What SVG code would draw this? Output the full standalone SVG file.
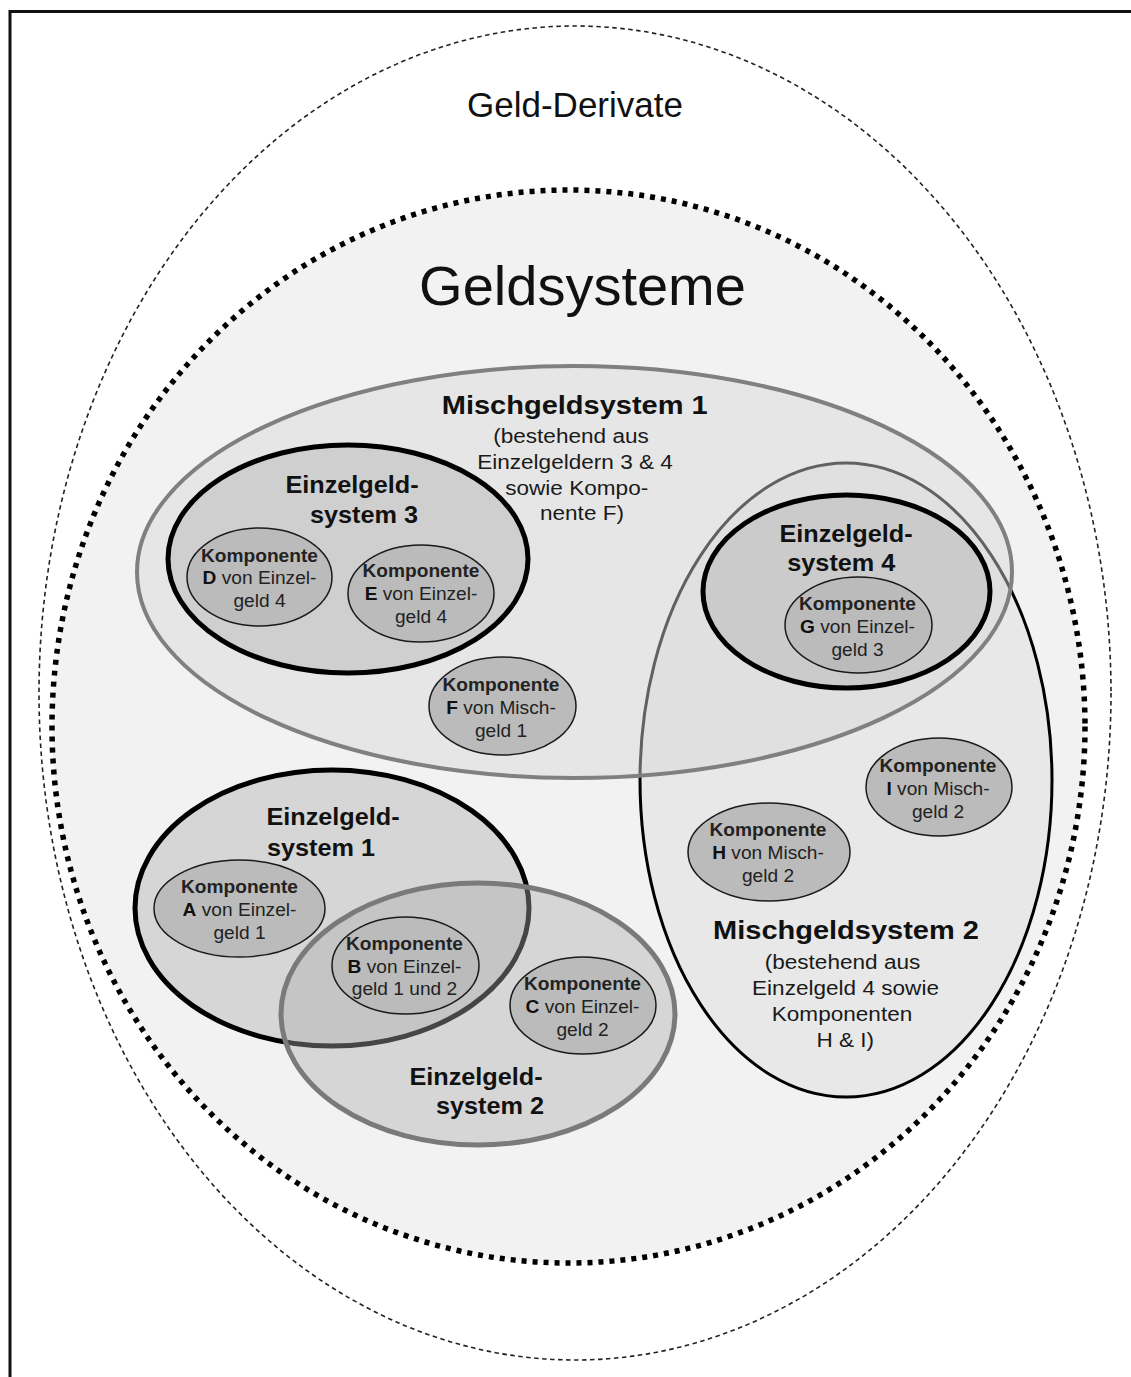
<svg xmlns="http://www.w3.org/2000/svg" width="1131" height="1377" viewBox="0 0 1131 1377">
<style>
text{font-family:"Liberation Sans",Arial,sans-serif;text-anchor:middle}
.title{font-size:35px;fill:#111}
.big{font-size:56px;fill:#111}
.mst{font-size:26.5px;font-weight:bold;fill:#111}
.msd{font-size:21px;fill:#1a1a1a}
.esl{font-size:23.5px;font-weight:bold;fill:#111}
.comp ellipse{fill:#bbbbbb;stroke:#1a1a1a;stroke-width:1.5}
.comp text{font-size:18.5px;fill:#222}
.b{font-weight:bold;fill:#111}
.esb{stroke:#000;stroke-width:5;fill:#adadad;fill-opacity:0.4}
.esg{stroke:#7a7a7a;stroke-width:5;fill:#adadad;fill-opacity:0.4}
</style>
<rect x="0" y="0" width="1131" height="1377" fill="#ffffff"/>
<path d="M10 1377 V11.5 H1131" fill="none" stroke="#111" stroke-width="3"/>
<g id="geld-derivate">
<ellipse cx="575" cy="693" rx="536" ry="667" fill="none" stroke="#222" stroke-width="1.6" stroke-dasharray="4.5 3.5"/>
<text class="title" x="575" y="117">Geld-Derivate</text>
</g>
<g id="geldsysteme">
<ellipse cx="568.5" cy="726.5" rx="516.5" ry="536.5" fill="#f2f2f2" stroke="#000" stroke-width="5.5" stroke-dasharray="5 6"/>
<text class="big" x="582.5" y="305">Geldsysteme</text>
</g>
<g id="mischgeldsystem2">
<ellipse cx="846" cy="780" rx="206" ry="317" fill="#c8c8c8" fill-opacity="0.24" stroke="#000" stroke-width="3"/>
</g>
<g id="mischgeldsystem1">
<ellipse cx="574.5" cy="572" rx="437.5" ry="206" fill="#d7d7d7" fill-opacity="0.45" stroke="#808080" stroke-width="4"/>
<text class="mst" transform="translate(574.7 0) scale(1.095 1)" x="0" y="414">Mischgeldsystem 1</text>
<text class="msd" transform="translate(571 0) scale(1.075 1)" x="0" y="443">(bestehend aus</text>
<text class="msd" transform="translate(575 0) scale(1.075 1)" x="0" y="469">Einzelgeldern 3 &amp; 4</text>
<text class="msd" transform="translate(576.7 0) scale(1.075 1)" x="0" y="495">sowie Kompo-</text>
<text class="msd" transform="translate(582 0) scale(1.075 1)" x="0" y="520">nente F)</text>
</g>
<g id="mischgeldsystem2-label">
<text class="mst" transform="translate(846 0) scale(1.095 1)" x="0" y="939">Mischgeldsystem 2</text>
<text class="msd" transform="translate(842.5 0) scale(1.075 1)" x="0" y="969">(bestehend aus</text>
<text class="msd" transform="translate(845.5 0) scale(1.075 1)" x="0" y="995">Einzelgeld 4 sowie</text>
<text class="msd" transform="translate(842 0) scale(1.075 1)" x="0" y="1021">Komponenten</text>
<text class="msd" transform="translate(845.3 0) scale(1.075 1)" x="0" y="1047">H &amp; I)</text>
</g>
<g id="einzelgeldsystem3">
<ellipse class="esb" cx="348" cy="559" rx="180" ry="114"/>
<text class="esl" transform="translate(352 0) scale(1.075 1)" x="0" y="493">Einzelgeld-</text>
<text class="esl" transform="translate(364 0) scale(1.075 1)" x="0" y="523">system 3</text>
</g>
<g id="einzelgeldsystem4">
<ellipse class="esb" cx="846.5" cy="591.5" rx="143.5" ry="96.5"/>
<text class="esl" transform="translate(846 0) scale(1.075 1)" x="0" y="542">Einzelgeld-</text>
<text class="esl" transform="translate(841.3 0) scale(1.075 1)" x="0" y="571">system 4</text>
</g>
<g id="einzelgeldsystem1">
<ellipse class="esb" cx="332" cy="908" rx="197" ry="138"/>
<text class="esl" transform="translate(333 0) scale(1.075 1)" x="0" y="825">Einzelgeld-</text>
<text class="esl" transform="translate(321 0) scale(1.075 1)" x="0" y="856">system 1</text>
</g>
<g id="einzelgeldsystem2">
<ellipse class="esg" cx="478" cy="1014" rx="197" ry="131"/>
<text class="esl" transform="translate(476 0) scale(1.075 1)" x="0" y="1085">Einzelgeld-</text>
<text class="esl" transform="translate(490 0) scale(1.075 1)" x="0" y="1114">system 2</text>
</g>
<g id="komponente-d" class="comp">
<ellipse cx="259.5" cy="577" rx="72.5" ry="49"/>
<g transform="translate(259.5 0) scale(1.035 1)"><text class="b" x="0" y="562">Komponente</text><text x="0" y="584.5"><tspan class="b">D</tspan> von Einzel-</text><text x="0" y="607">geld 4</text></g>
</g>
<g id="komponente-e" class="comp">
<ellipse cx="421" cy="593.5" rx="73" ry="48.5"/>
<g transform="translate(421 0) scale(1.035 1)"><text class="b" x="0" y="577">Komponente</text><text x="0" y="600"><tspan class="b">E</tspan> von Einzel-</text><text x="0" y="623">geld 4</text></g>
</g>
<g id="komponente-f" class="comp">
<ellipse cx="502.5" cy="706" rx="73.5" ry="49"/>
<g transform="translate(501 0) scale(1.035 1)"><text class="b" x="0" y="691">Komponente</text><text x="0" y="714"><tspan class="b">F</tspan> von Misch-</text><text x="0" y="737">geld 1</text></g>
</g>
<g id="komponente-g" class="comp">
<ellipse cx="858.5" cy="625" rx="73.5" ry="48"/>
<g transform="translate(857.5 0) scale(1.035 1)"><text class="b" x="0" y="610">Komponente</text><text x="0" y="633"><tspan class="b">G</tspan> von Einzel-</text><text x="0" y="656">geld 3</text></g>
</g>
<g id="komponente-h" class="comp">
<ellipse cx="769" cy="852" rx="81" ry="49"/>
<g transform="translate(768 0) scale(1.035 1)"><text class="b" x="0" y="836">Komponente</text><text x="0" y="859"><tspan class="b">H</tspan> von Misch-</text><text x="0" y="882">geld 2</text></g>
</g>
<g id="komponente-i" class="comp">
<ellipse cx="939" cy="787" rx="73" ry="49"/>
<g transform="translate(938 0) scale(1.035 1)"><text class="b" x="0" y="772">Komponente</text><text x="0" y="795"><tspan class="b">I</tspan> von Misch-</text><text x="0" y="818">geld 2</text></g>
</g>
<g id="komponente-a" class="comp">
<ellipse cx="239.5" cy="908.5" rx="85.5" ry="48.5"/>
<g transform="translate(239.5 0) scale(1.035 1)"><text class="b" x="0" y="893">Komponente</text><text x="0" y="916"><tspan class="b">A</tspan> von Einzel-</text><text x="0" y="939">geld 1</text></g>
</g>
<g id="komponente-b" class="comp">
<ellipse cx="405.5" cy="965.5" rx="73.5" ry="48.5"/>
<g transform="translate(404.5 0) scale(1.035 1)"><text class="b" x="0" y="950">Komponente</text><text x="0" y="973"><tspan class="b">B</tspan> von Einzel-</text><text x="0" y="995">geld 1 und 2</text></g>
</g>
<g id="komponente-c" class="comp">
<ellipse cx="583" cy="1005.5" rx="73" ry="48.5"/>
<g transform="translate(582.5 0) scale(1.035 1)"><text class="b" x="0" y="990">Komponente</text><text x="0" y="1013"><tspan class="b">C</tspan> von Einzel-</text><text x="0" y="1036">geld 2</text></g>
</g>
<g id="connectors"/>
</svg>
